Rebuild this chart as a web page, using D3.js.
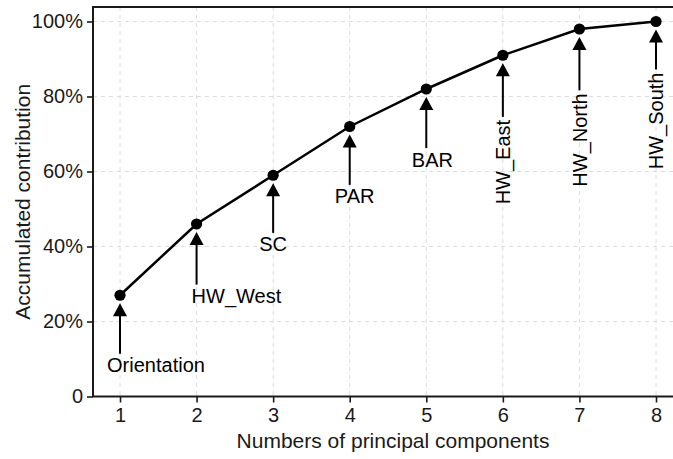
<!DOCTYPE html>
<html>
<head>
<meta charset="utf-8">
<script src="https://cdn.jsdelivr.net/npm/d3@7"></script>
<style>
  html, body { margin: 0; padding: 0; background: #fff; }
  svg { display: block; font-family: "Liberation Sans", Arial, sans-serif; }
</style>
</head>
<body>
<svg id="chart" width="673" height="459"></svg>
<script>
// Cumulative contribution of the principal components
const components = [1, 2, 3, 4, 5, 6, 7, 8];
const accumulated = [0.27, 0.46, 0.59, 0.72, 0.82, 0.91, 0.98, 1.00];
const variables = ["Orientation", "HW_West", "SC", "PAR", "BAR", "HW_East", "HW_North", "HW_South"];
// annotation anchors in data units (horizontal labels: baseline; vertical labels: centre)
const labelX = [1.47, 2.52, 3.0, 4.065, 5.08, 6.0, 7.0, 8.0];
const labelY = [0.065, 0.249, 0.387, 0.515, 0.613, 0.625, 0.684, 0.735];
const labelVertical = [false, false, false, false, false, true, true, true];
const yTicks = [0, 0.2, 0.4, 0.6, 0.8, 1.0];
const yTickLabels = ["0", "20%", "40%", "60%", "80%", "100%"];

const svg = d3.select("#chart");
const W = 673, H = 459;
const panelLeft = 93, panelTop = 7, panelBottom = 396.5, panelRight = 690;

const x = d3.scaleLinear().domain([1, 8]).range([120, 656]);
const y = d3.scaleLinear().domain([0, 1]).range([panelBottom, 21.5]);

// grid
const grid = svg.append("g").attr("stroke", "#dcdcdc").attr("stroke-width", 1)
  .attr("stroke-dasharray", "4,4");
grid.selectAll("line.v").data(components).join("line")
  .attr("x1", d => x(d)).attr("x2", d => x(d))
  .attr("y1", panelTop).attr("y2", panelBottom);
grid.selectAll("line.h").data(yTicks.filter(d => d > 0)).join("line")
  .attr("x1", panelLeft).attr("x2", panelRight)
  .attr("y1", d => y(d)).attr("y2", d => y(d));

// axes
const xAxis = d3.axisBottom(x).tickValues(components).tickSize(6).tickPadding(5)
  .tickFormat(d3.format("d"));
const gx = svg.append("g").attr("transform", `translate(0,${panelBottom})`).call(xAxis);
gx.select(".domain").remove();
gx.append("line").attr("x1", panelLeft).attr("x2", panelRight).attr("stroke", "#1a1a1a").attr("stroke-width", 2);

const yAxis = d3.axisLeft(y).tickValues(yTicks).tickSize(6).tickPadding(4)
  .tickFormat((d, i) => yTickLabels[i]);
const gy = svg.append("g").attr("transform", `translate(${panelLeft},0)`).call(yAxis);
gy.select(".domain").remove();
gy.append("line").attr("y1", panelTop).attr("y2", panelBottom + 0.5).attr("stroke", "#1a1a1a").attr("stroke-width", 2);

[gx, gy].forEach(g => {
  g.selectAll(".tick line").attr("stroke", "#1a1a1a").attr("stroke-width", 1.6);
  g.selectAll(".tick text").attr("fill", "#1a1a1a").style("font-size", "20px")
    .style("font-family", "'Liberation Sans', Arial, sans-serif");
});

// top border of panel
svg.append("line").attr("x1", panelLeft - 1).attr("x2", panelRight).attr("y1", panelTop).attr("y2", panelTop)
  .attr("stroke", "#1a1a1a").attr("stroke-width", 2);

// axis titles
svg.append("text").attr("x", (panelLeft + W) / 2 + 10).attr("y", 448)
  .attr("text-anchor", "middle").style("font-size", "21px").attr("fill", "#1a1a1a")
  .text("Numbers of principal components");
svg.append("text").attr("transform", `translate(30,${(panelTop + panelBottom) / 2}) rotate(-90)`)
  .attr("text-anchor", "middle").style("font-size", "21px").attr("fill", "#1a1a1a")
  .text("Accumulated contribution");

// line and points
const line = d3.line().x((d, i) => x(components[i])).y(d => y(d));
svg.append("path").datum(accumulated).attr("d", line)
  .attr("fill", "none").attr("stroke", "#000").attr("stroke-width", 2.5);
svg.append("g").selectAll("circle").data(accumulated).join("circle")
  .attr("cx", (d, i) => x(components[i])).attr("cy", d => y(d)).attr("r", 5.6).attr("fill", "#000");

// annotations: label text plus an arrow pointing up at each point
const ann = svg.append("g");
variables.forEach((name, i) => {
  const px = x(components[i]), py = y(accumulated[i]);
  const t = ann.append("text").style("font-size", "20px").attr("fill", "#000").text(name);
  let lineEnd;
  if (labelVertical[i]) {
    const cx = x(labelX[i]), cy = y(labelY[i]);
    t.attr("text-anchor", "middle").attr("dy", "0.36em")
      .attr("transform", `translate(${cx},${cy}) rotate(-90)`);
    const len = t.node().getComputedTextLength();
    lineEnd = cy - len / 2 - 3;
  } else {
    t.attr("text-anchor", "middle").attr("x", x(labelX[i])).attr("y", y(labelY[i]));
    lineEnd = y(labelY[i]) - 14.5 - 4;
  }
  const tip = py + 8, base = tip + 13, half = 7;
  ann.append("line").attr("x1", px).attr("x2", px).attr("y1", base - 1).attr("y2", lineEnd)
    .attr("stroke", "#000").attr("stroke-width", 2);
  ann.append("path")
    .attr("d", `M${px},${tip}L${px - half},${base}L${px + half},${base}Z`)
    .attr("fill", "#000");
});
</script>
</body>
</html>
